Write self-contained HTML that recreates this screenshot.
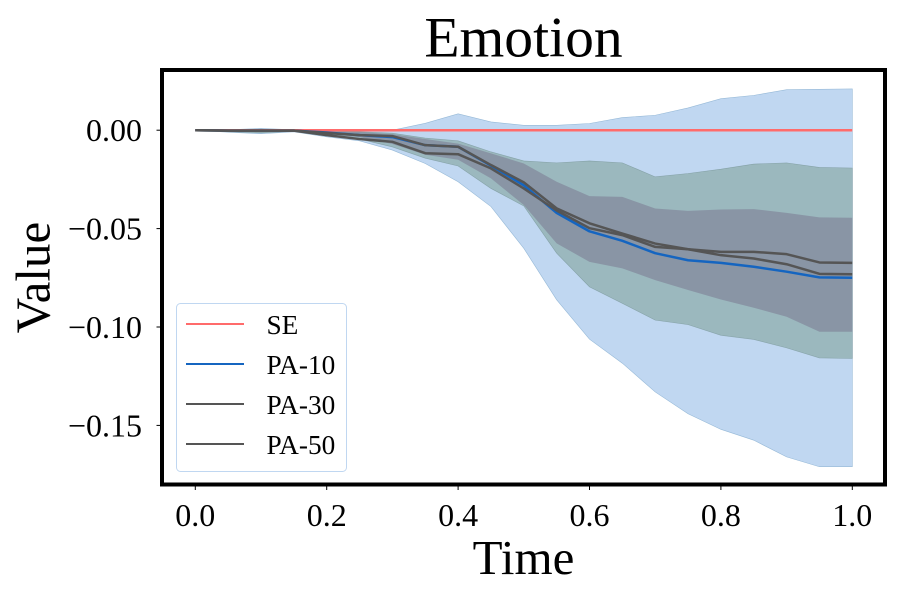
<!DOCTYPE html>
<html>
<head>
<meta charset="utf-8">
<title>Emotion</title>
<style>
html,body{margin:0;padding:0;background:#fff;}
svg{display:block;}
text{font-family:"Liberation Serif",serif;fill:#000;}
</style>
</head>
<body>
<svg id="chart" xmlns="http://www.w3.org/2000/svg" width="900" height="600" viewBox="0 0 900 600">
  <rect x="0" y="0" width="900" height="600" fill="#fff"/>
  <text x="523.5" y="56.5" font-size="57.6" text-anchor="middle">Emotion</text>
  <text x="523.5" y="574" font-size="49" text-anchor="middle">Time</text>
  <text transform="translate(49.5,277.5) rotate(-90)" font-size="49" text-anchor="middle">Value</text>
  <g id="bands"></g>
  <g id="lines"></g>
  <rect x="162" y="70" width="723" height="414.5" fill="none" stroke="#000" stroke-width="4"/>
  <g id="xticks"></g>
  <g id="yticks"></g>
  <g>
    <rect x="176.5" y="303.5" width="170" height="168" rx="4" fill="#fff" fill-opacity="0.85" stroke="#c0d7f1" stroke-width="1"/>
    <g>
      <line x1="186" x2="244" y1="324" y2="324" stroke="#ff6b6b" stroke-width="2"/>
      <text x="266.5" y="334" font-size="27.3">SE</text>
    </g>
    <g>
      <line x1="186" x2="244" y1="364" y2="364" stroke="#1565c0" stroke-width="2"/>
      <text x="266.5" y="374" font-size="27.3">PA-10</text>
    </g>
    <g>
      <line x1="186" x2="244" y1="404" y2="404" stroke="#555" stroke-width="2"/>
      <text x="266.5" y="414" font-size="27.3">PA-30</text>
    </g>
    <g>
      <line x1="186" x2="244" y1="444" y2="444" stroke="#555" stroke-width="2"/>
      <text x="266.5" y="454" font-size="27.3">PA-50</text>
    </g>
  </g>
</svg>
<script>
var times = [0,0.05,0.1,0.15,0.2,0.25,0.3,0.35,0.4,0.45,0.5,0.55,0.6,0.65,0.7,0.75,0.8,0.85,0.9,0.95,1.0];
var seValues = [0,0,0,0,0,0,0,0,0,0,0,0,0,0,0,0,0,0,0,0,0];
var pa10Values = [0,-0.0002,-0.0002,-0.0002,-0.0012,-0.0025,-0.0035,-0.0076,-0.0084,-0.018,-0.028,-0.042,-0.0514,-0.0562,-0.0625,-0.0661,-0.0674,-0.0694,-0.0719,-0.0748,-0.075];
var pa30Values = [0,-0.0002,-0.0002,-0.0002,-0.0025,-0.0045,-0.0059,-0.0117,-0.0122,-0.0194,-0.0296,-0.0408,-0.0498,-0.0533,-0.0593,-0.0605,-0.0635,-0.0652,-0.0681,-0.073,-0.0732];
var pa50Values = [0,-0.0002,-0.0002,-0.0002,-0.0014,-0.0025,-0.003,-0.0076,-0.0084,-0.0177,-0.0265,-0.0397,-0.0473,-0.0525,-0.0576,-0.0605,-0.0618,-0.0618,-0.063,-0.0672,-0.0674];
var pa10Upper = [0,0.0002,0.0009,0.0002,-0.0004,-0.0005,0,0.0035,0.0083,0.0042,0.0025,0.0025,0.0034,0.0064,0.0076,0.0113,0.016,0.0177,0.0206,0.0208,0.021];
var pa10Lower = [0,-0.001,-0.0018,-0.0008,-0.0034,-0.0054,-0.0101,-0.0169,-0.0262,-0.0388,-0.06,-0.0862,-0.1062,-0.1184,-0.133,-0.1441,-0.152,-0.1575,-0.166,-0.171,-0.171];
var pa30Upper = [0,0.0001,0.0005,0,-0.0006,-0.0008,-0.0015,-0.004,-0.0054,-0.011,-0.0156,-0.0166,-0.0156,-0.0166,-0.0237,-0.022,-0.0198,-0.0172,-0.0166,-0.0189,-0.0192];
var pa30Lower = [0,-0.0008,-0.0014,-0.0006,-0.003,-0.0045,-0.0085,-0.0142,-0.0182,-0.0296,-0.0385,-0.0625,-0.0796,-0.088,-0.0965,-0.0988,-0.1042,-0.1063,-0.1106,-0.1157,-0.116];
var pa50Upper = [0,0,0.0003,-0.0001,-0.0008,-0.001,-0.002,-0.0045,-0.0068,-0.0118,-0.0169,-0.0262,-0.0335,-0.0339,-0.0398,-0.041,-0.0403,-0.0401,-0.042,-0.0443,-0.0445];
var pa50Lower = [0,-0.0005,-0.001,-0.0005,-0.002,-0.0035,-0.007,-0.0125,-0.015,-0.0245,-0.038,-0.0575,-0.0669,-0.0702,-0.0762,-0.0812,-0.086,-0.0902,-0.0948,-0.1024,-0.1024];
var xTickValues = [0,0.2,0.4,0.6,0.8,1.0];
var xTickLabels = ["0.0","0.2","0.4","0.6","0.8","1.0"];
var yTickValues = [0,-0.05,-0.1,-0.15];
var yTickLabels = ["0.00","\u22120.05","\u22120.10","\u22120.15"];

var NS = "http://www.w3.org/2000/svg";
function xScale(v){ return 195.3 + v * 657; }
function yScale(v){ return 130.2 - v * 1968; }
function make(tag, parent, attrs){
  var el = document.createElementNS(NS, tag);
  for (var k in attrs) el.setAttribute(k, attrs[k]);
  parent.appendChild(el);
  return el;
}
function linePath(values){
  return values.map(function(v,i){
    return (i ? "L" : "M") + xScale(times[i]).toFixed(2) + " " + yScale(v).toFixed(2);
  }).join(" ");
}
function bandPath(upper, lower){
  var d = linePath(upper);
  for (var i = lower.length - 1; i >= 0; i--) {
    d += " L" + xScale(times[i]).toFixed(2) + " " + yScale(lower[i]).toFixed(2);
  }
  return d + " Z";
}

var bandsG = document.getElementById("bands");
var b1 = make("path", bandsG, {d: bandPath(pa10Upper, pa10Lower), fill: "rgb(192,215,241)", stroke: "rgb(150,185,215)", "stroke-width": "0.6"});


var b2 = make("path", bandsG, {d: bandPath(pa30Upper, pa30Lower), fill: "rgb(69,112,74)", "fill-opacity": "0.3", stroke: "rgb(110,140,140)", "stroke-width": "0.6", "stroke-opacity": "0.6"});


var b3 = make("path", bandsG, {d: bandPath(pa50Upper, pa50Lower), fill: "rgb(95,71,108)", "fill-opacity": "0.3"});



var linesG = document.getElementById("lines");
var common = {fill: "none", "stroke-width": "2.5", "stroke-linejoin": "round"};
function drawLine(values, color){
  var a = {d: linePath(values), stroke: color};
  for (var k in common) a[k] = common[k];
  return make("path", linesG, a);
}
var l0 = drawLine(seValues, "#ff6b6b");


var l1 = drawLine(pa10Values, "#1565c0");


var l2 = drawLine(pa30Values, "#555555");


var l3 = drawLine(pa50Values, "#555555");



var xG = document.getElementById("xticks");
xTickValues.forEach(function(v,i){
  var x = xScale(v);
  var t = make("line", xG, {x1: x, x2: x, y1: 486, y2: 490, stroke: "#000", "stroke-width": "1"});
  
  
  var s = make("text", xG, {x: x, y: 526, "font-size": "32", "text-anchor": "middle"});
  
  
  s.textContent = xTickLabels[i];
});
var yG = document.getElementById("yticks");
yTickValues.forEach(function(v,i){
  var y = yScale(v);
  var t = make("line", yG, {x1: 156.5, x2: 160, y1: y, y2: y, stroke: "#000", "stroke-width": "1"});
  
  
  var s = make("text", yG, {x: 142, y: y + 11, "font-size": "32", "text-anchor": "end"});
  
  
  s.textContent = yTickLabels[i];
});
</script>
</body>
</html>
